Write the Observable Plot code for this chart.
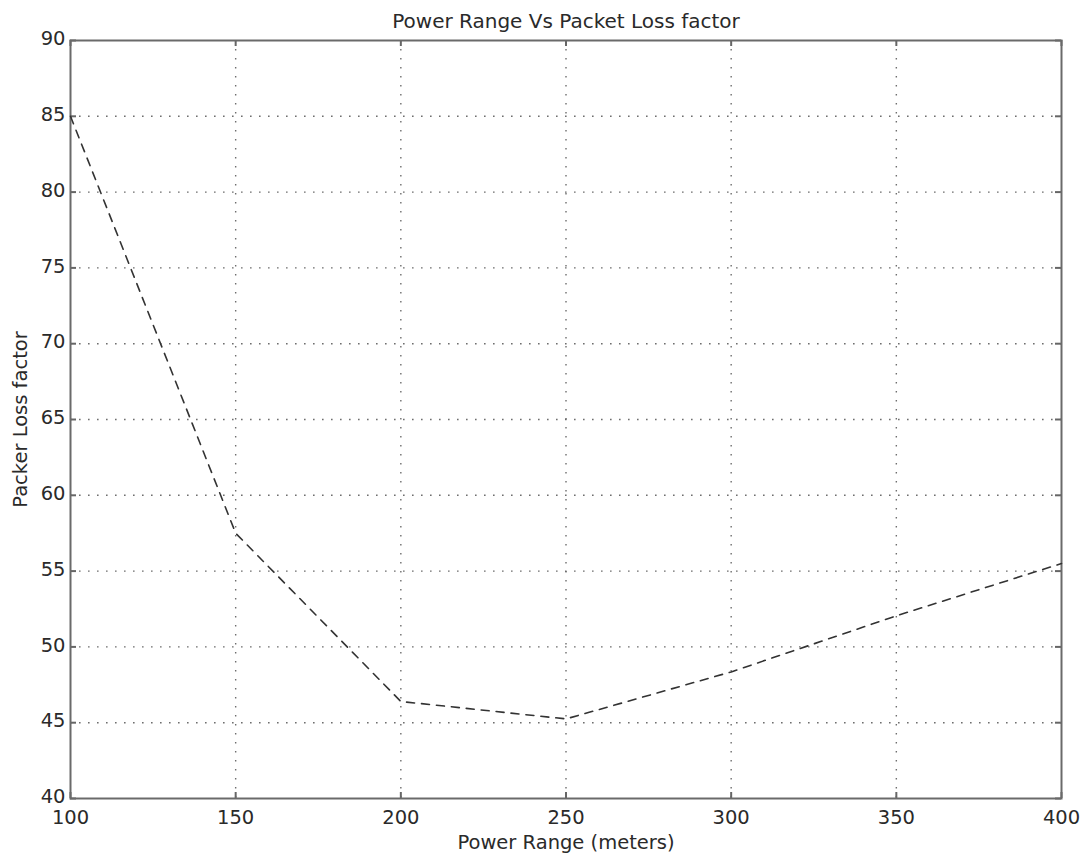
<!DOCTYPE html>
<html>
<head>
<meta charset="utf-8">
<script src="https://cdn.jsdelivr.net/npm/d3@7"></script>
<script src="https://cdn.jsdelivr.net/npm/@observablehq/plot@0.6"></script>
<style>
  html, body { margin: 0; padding: 0; background: #fff; }
</style>
</head>
<body>
<div id="chart"></div>
<script>
// Data
const powerRange = [100, 150, 200, 250, 300, 350, 400];
const packetLoss = [85, 57.5, 46.4, 45.25, 48.35, 52.05, 55.5];
const xTicks = [100, 150, 200, 250, 300, 350, 400];
const yTicks = [40, 45, 50, 55, 60, 65, 70, 75, 80, 85, 90];
const titleText = "Power Range Vs Packet Loss factor";
const xLabelText = "Power Range (meters)";
const yLabelText = "Packer Loss factor";

const data = powerRange.map((x, i) => ({x, y: packetLoss[i]}));

const W = 1084, H = 859;
const mL = 70, mR = 23, mT = 40, mB = 61;
const innerH = H - mT - mB;
const innerW = W - mL - mR;
const tickLen = 6;
const gridStyle = {stroke: "#555", strokeWidth: 1.4, strokeDasharray: "1.6,7.4", strokeOpacity: 0.85};
const textColor = "#2a2a2a";

const chart = Plot.plot({
  width: W,
  height: H,
  marginLeft: mL,
  marginRight: mR,
  marginTop: mT,
  marginBottom: mB,
  style: {fontFamily: "DejaVu Sans", fontSize: "19px", color: textColor, background: "#fff"},
  x: {domain: [100, 400], ticks: xTicks},
  y: {domain: [40, 90], ticks: yTicks},
  marks: [
    // dotted grid
    Plot.ruleX(xTicks.slice(1, -1), {x: d => d, ...gridStyle}),
    Plot.ruleY(yTicks.slice(1, -1), {y: d => d, ...gridStyle}),
    // inward ticks: bottom, top, left, right
    Plot.tickX(xTicks, {x: d => d, insetTop: innerH - tickLen, stroke: "#666", strokeWidth: 2}),
    Plot.tickX(xTicks, {x: d => d, insetBottom: innerH - tickLen, stroke: "#666", strokeWidth: 2}),
    Plot.tickY(yTicks, {y: d => d, insetRight: innerW - tickLen, stroke: "#666", strokeWidth: 2}),
    Plot.tickY(yTicks, {y: d => d, insetLeft: innerW - tickLen, stroke: "#666", strokeWidth: 2}),
    // axes labels (ticks only as text)
    Plot.axisX(xTicks, {anchor: "bottom", tickSize: 0, tickPadding: 12, label: null, fill: textColor, fontSize: 19.5}),
    Plot.axisY(yTicks, {anchor: "left", tickSize: 0, tickPadding: 5, dy: -1.5, label: null, fill: textColor, fontSize: 19.5}),
    // frame
    Plot.frame({stroke: "#6a6a6a", strokeWidth: 2}),
    // data line
    Plot.line(data, {x: "x", y: "y", stroke: "#333", strokeWidth: 1.6, strokeDasharray: "8,7"}),
    // title & axis titles
    Plot.text([titleText], {text: d => d, frameAnchor: "top", dy: -27, fontSize: 20, fill: textColor}),
    Plot.text([xLabelText], {text: d => d, frameAnchor: "bottom", dy: 50, fontSize: 19.5, fill: textColor}),
    Plot.text([yLabelText], {text: d => d, frameAnchor: "left", textAnchor: "middle", dx: -50, rotate: -90, fontSize: 19.5, fill: textColor})
  ]
});
document.getElementById("chart").appendChild(chart);
</script>
</body>
</html>
